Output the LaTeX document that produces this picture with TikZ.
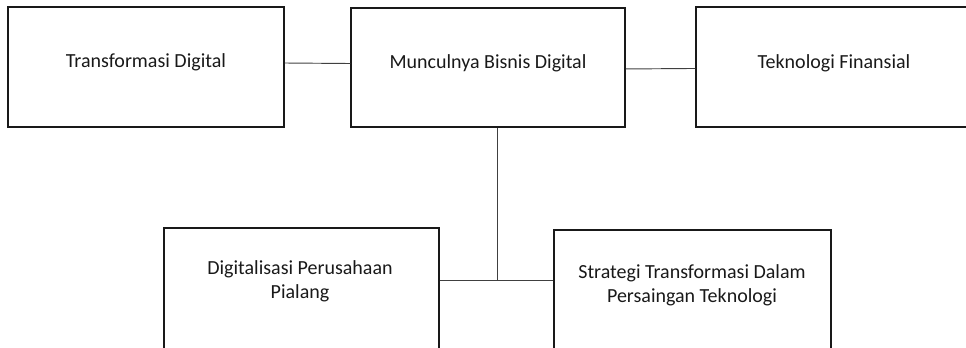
\documentclass[tikz,border=0pt]{standalone}
\usepackage{fontspec}
\setmainfont{Carlito}
\usetikzlibrary{positioning}

\begin{document}
\begin{tikzpicture}[x=0.75pt,y=-0.75pt]
  \tikzset{box/.style = {shape=rectangle,draw=black!90,line width=1pt,inner sep=0pt}}
  \tikzset{txt/.style = {align=center,font=\fontsize{15}{18}\selectfont,text=black!90}}
  \tikzset{link/.style = {draw=black!75,line width=0.7pt}}

  \useasboundingbox (0,0) rectangle (966,347);
  \clip (0,0) rectangle (966,347);

	\node[box,minimum width=207pt,minimum height=90pt] (B1) at (146,67) {};
	\node[box,minimum width=205.5pt,minimum height=89.25pt] (B2) at (488,67.5) {};
	\node[box,minimum width=213pt,minimum height=90pt] (B3) at (838,67) {};
	\node[box,minimum width=206.25pt,minimum height=99pt] (B4) at (301.5,294) {};
	\node[box,minimum width=207.75pt,minimum height=97.5pt] (B5) at (692.5,295) {};

	\node[txt] (T1) at (146,62) {Transformasi Digital};
	\node[txt] (T2) at (488,63) {Munculnya Bisnis Digital};
	\node[txt] (T3) at (834,63) {Teknologi Finansial};
	\node[txt] (T4) at (300,281) {Digitalisasi Perusahaan\\Pialang};
	\node[txt] (T5) at (692,285) {Strategi Transformasi Dalam\\Persaingan Teknologi};

	\coordinate (J) at (497,280);

	\path[link] ([yshift=3pt]B1.east) -- ([yshift=3pt]B2.west);
	\path[link] ([yshift=-1.1pt]B2.east) -- ([yshift=-1.1pt]B3.west);
	\path[link] ([xshift=6.75pt]B2.south) -- (J);
	\path[link] ([yshift=10.5pt]B4.east) -- ([yshift=10.5pt]B4.east -| B5.west);
\end{tikzpicture}
\end{document}
